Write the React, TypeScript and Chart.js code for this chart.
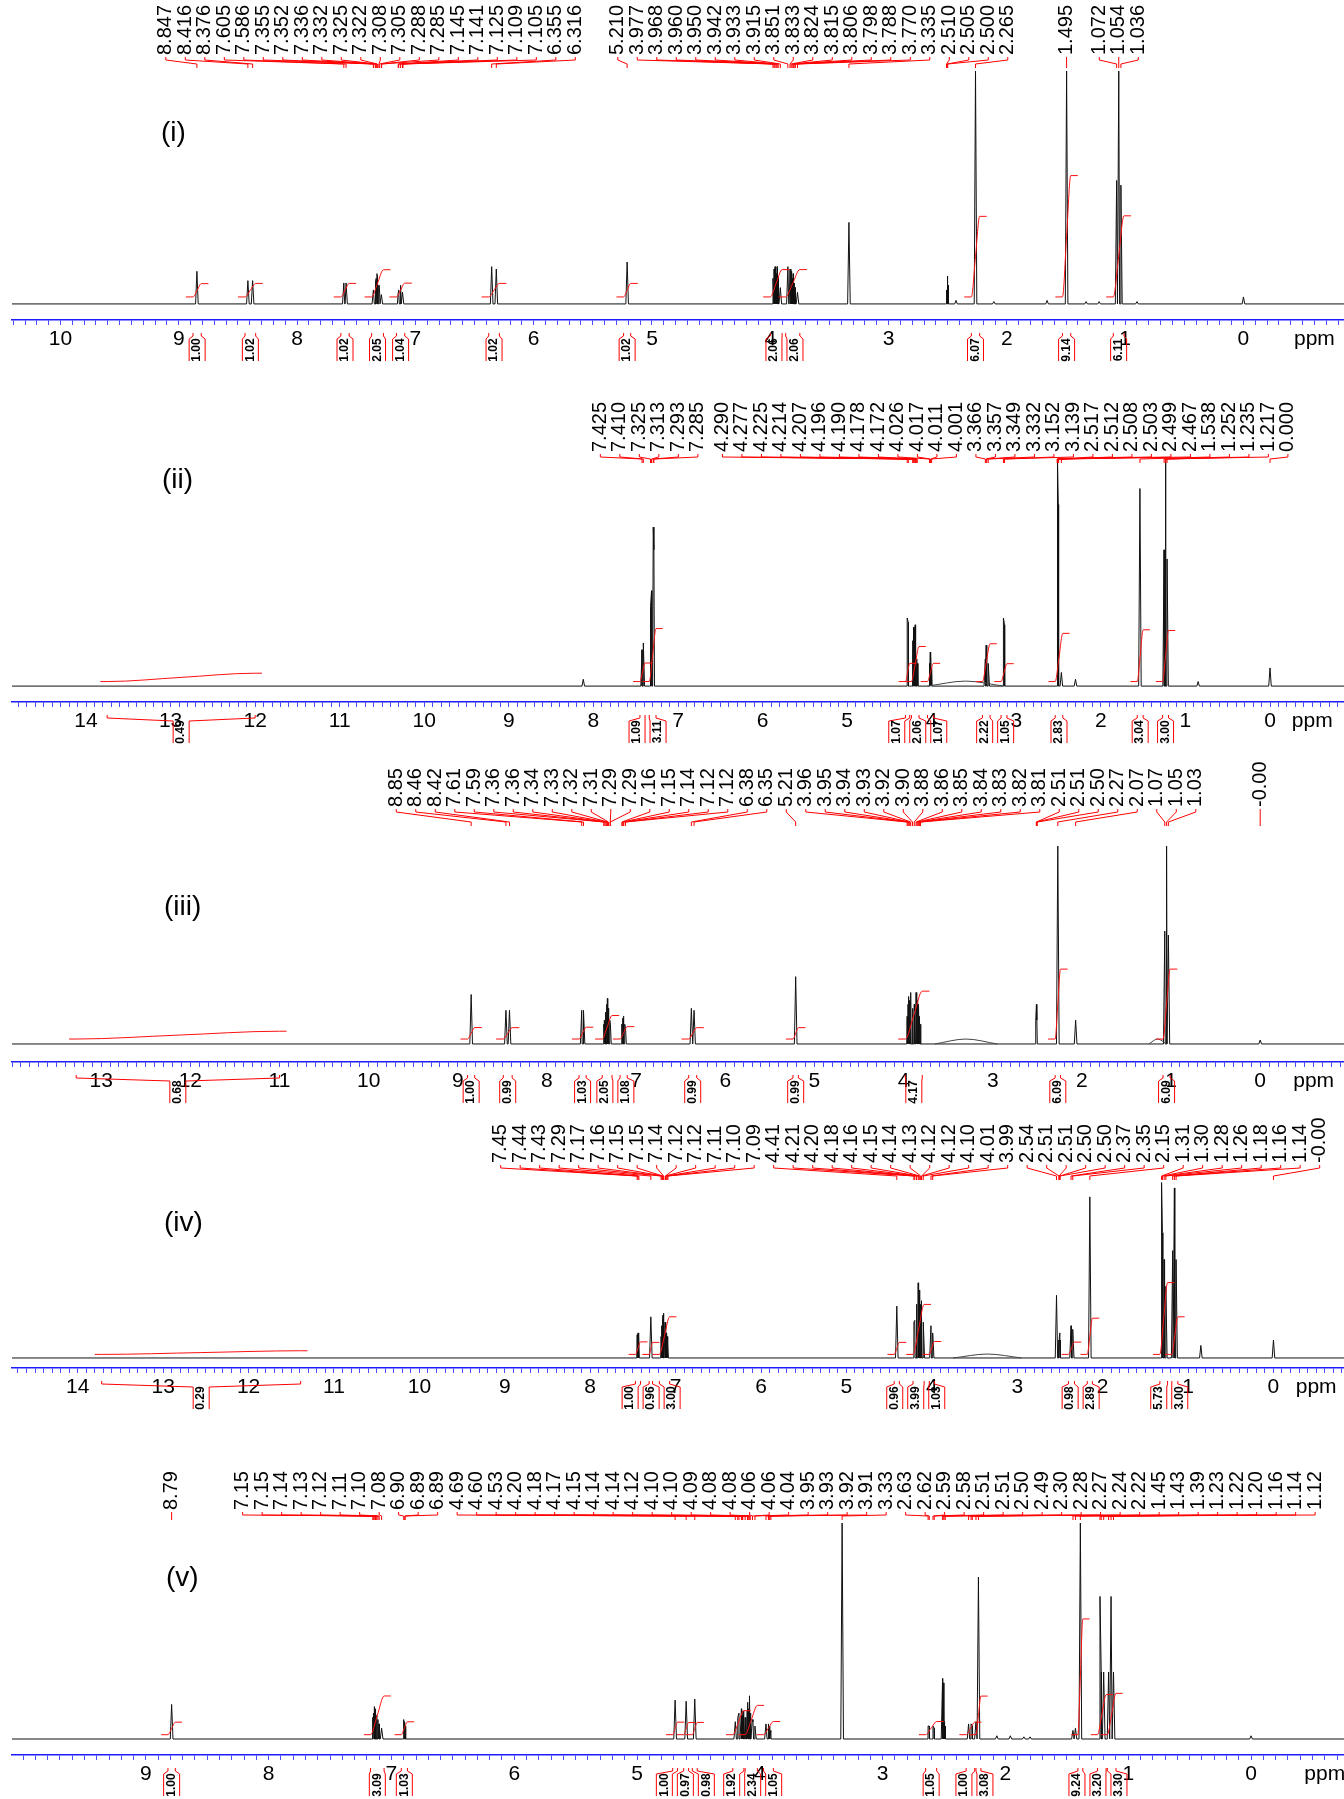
import React, { useEffect, useRef } from 'react';
import { Chart, registerables } from 'chart.js';

Chart.register(...registerables);

type Peak = [number, number];
type Hump = [number, number, number];
type Integral = [number, number, string];

// ---------------- Spectrum (i) ----------------
const PEAKS_1: Peak[] = [
  [8.847, 14], [8.416, 10], [8.376, 10], [7.605, 9], [7.586, 9], [7.355, 6], [7.352, 6], [7.336, 10], [7.332, 11],
  [7.325, 13], [7.322, 12], [7.308, 8], [7.305, 8], [7.288, 4], [7.285, 4], [7.145, 5], [7.141, 6], [7.125, 8],
  [7.109, 5], [7.105, 5], [6.355, 16], [6.316, 15], [5.21, 18], [3.977, 11], [3.968, 15], [3.96, 16], [3.95, 13],
  [3.942, 16], [3.933, 12], [3.915, 7], [3.851, 16], [3.833, 15], [3.824, 14], [3.815, 11], [3.806, 13], [3.798, 9],
  [3.788, 7], [3.77, 5], [3.335, 35], [2.51, 6], [2.505, 10], [2.5, 12], [2.495, 8], [2.43, 1.5], [2.265, 100],
  [2.11, 1], [1.66, 1.5], [1.495, 100], [1.33, 1], [1.22, 1], [1.072, 53], [1.054, 100], [1.036, 51], [0.9, 1], [0.0, 3],
];
const HUMPS_1: Hump[] = [];
const LABELS_1 = [
  '8.847', '8.416', '8.376', '7.605', '7.586', '7.355', '7.352', '7.336', '7.332', '7.325', '7.322', '7.308', '7.305',
  '7.288', '7.285', '7.145', '7.141', '7.125', '7.109', '7.105', '6.355', '6.316', '5.210', '3.977', '3.968', '3.960',
  '3.950', '3.942', '3.933', '3.915', '3.851', '3.833', '3.824', '3.815', '3.806', '3.798', '3.788', '3.770', '3.335',
  '2.510', '2.505', '2.500', '2.265', '1.495', '1.072', '1.054', '1.036',
];
const INTEGRALS_1: Integral[] = [
  [8.88, 8.81, '1.00'], [8.44, 8.35, '1.02'], [7.63, 7.56, '1.02'], [7.37, 7.27, '2.05'], [7.16, 7.09, '1.04'],
  [6.38, 6.29, '1.02'], [5.24, 5.18, '1.02'], [4.0, 3.9, '2.06'], [3.87, 3.75, '2.06'], [2.3, 2.23, '6.07'],
  [1.53, 1.46, '9.14'], [1.1, 1.01, '6.11'],
];

// ---------------- Spectrum (ii) ----------------
const PEAKS_2: Peak[] = [
  [8.12, 3], [7.425, 16], [7.41, 19], [7.325, 35], [7.313, 42], [7.293, 70], [7.285, 60], [4.29, 30], [4.277, 28],
  [4.225, 20], [4.214, 26], [4.207, 25], [4.196, 27], [4.19, 21], [4.178, 12], [4.172, 10], [4.026, 10], [4.017, 15],
  [4.011, 14], [4.001, 8], [3.366, 12], [3.357, 18], [3.349, 16], [3.332, 10], [3.152, 30], [3.139, 27], [2.517, 45],
  [2.512, 75], [2.508, 100], [2.503, 80], [2.499, 50], [2.467, 6], [2.3, 3], [1.538, 87], [1.252, 60], [1.235, 100],
  [1.217, 56], [0.85, 2], [0.0, 8],
];
const HUMPS_2: Hump[] = [[3.6, 2.2, 0.45]];
const LABELS_2 = [
  '7.425', '7.410', '7.325', '7.313', '7.293', '7.285', '4.290', '4.277', '4.225', '4.214', '4.207', '4.196', '4.190',
  '4.178', '4.172', '4.026', '4.017', '4.011', '4.001', '3.366', '3.357', '3.349', '3.332', '3.152', '3.139', '2.517',
  '2.512', '2.508', '2.503', '2.499', '2.467', '1.538', '1.252', '1.235', '1.217', '0.000',
];
const INTEGRALS_2: Integral[] = [
  [13.75, 12.0, '0.49'], [7.45, 7.39, '1.09'], [7.34, 7.26, '3.11'], [4.31, 4.26, '1.07'], [4.24, 4.15, '2.06'],
  [4.05, 3.98, '1.07'], [3.4, 3.31, '2.22'], [3.18, 3.11, '1.05'], [2.54, 2.45, '2.83'], [1.57, 1.5, '3.04'],
  [1.27, 1.2, '3.00'],
];

// ---------------- Spectrum (iii) ----------------
const PEAKS_3: Peak[] = [
  [8.85, 25], [8.46, 17], [8.42, 17], [7.61, 17], [7.59, 17], [7.362, 10], [7.356, 12], [7.342, 16], [7.333, 20],
  [7.322, 23], [7.312, 18], [7.294, 12], [7.288, 10], [7.16, 10], [7.15, 13], [7.14, 14], [7.125, 10], [7.118, 8],
  [6.38, 18], [6.35, 17], [5.21, 34], [3.96, 14], [3.95, 20], [3.94, 24], [3.93, 22], [3.92, 26], [3.9, 18], [3.88, 20],
  [3.86, 26], [3.85, 24], [3.84, 22], [3.83, 20], [3.82, 14], [3.81, 10], [2.515, 12], [2.51, 20], [2.505, 12],
  [2.27, 100], [2.07, 12], [1.07, 57], [1.05, 100], [1.03, 55], [0.0, 2],
];
const HUMPS_3: Hump[] = [[3.3, 2.5, 0.35], [1.15, 2.5, 0.1]];
const LABELS_3 = [
  '8.85', '8.46', '8.42', '7.61', '7.59', '7.36', '7.36', '7.34', '7.33', '7.32', '7.31', '7.29', '7.29', '7.16', '7.15',
  '7.14', '7.12', '7.12', '6.38', '6.35', '5.21', '3.96', '3.95', '3.94', '3.93', '3.92', '3.90', '3.88', '3.86', '3.85',
  '3.84', '3.83', '3.82', '3.81', '2.51', '2.51', '2.50', '2.27', '2.07', '1.07', '1.05', '1.03', '-0.00',
];
const INTEGRALS_3: Integral[] = [
  [13.28, 11.0, '0.68'], [8.89, 8.81, '1.00'], [8.49, 8.39, '0.99'], [7.64, 7.56, '1.03'], [7.38, 7.27, '2.05'],
  [7.18, 7.1, '1.08'], [6.41, 6.32, '0.99'], [5.24, 5.18, '0.99'], [3.98, 3.79, '4.17'], [2.3, 2.24, '6.09'],
  [1.09, 1.01, '6.09'],
];

// ---------------- Spectrum (iv) ----------------
const PEAKS_4: Peak[] = [
  [7.45, 13], [7.44, 14], [7.43, 12], [7.29, 23], [7.17, 12], [7.16, 18], [7.152, 22], [7.147, 24], [7.14, 25],
  [7.124, 20], [7.118, 18], [7.11, 14], [7.1, 12], [7.09, 8], [4.41, 29], [4.21, 20], [4.2, 21], [4.18, 30], [4.16, 42],
  [4.15, 35], [4.14, 38], [4.13, 30], [4.124, 32], [4.118, 25], [4.1, 20], [4.01, 18], [3.99, 14], [2.54, 35],
  [2.512, 10], [2.507, 12], [2.502, 14], [2.497, 10], [2.37, 18], [2.35, 16], [2.15, 90], [1.31, 98], [1.3, 70],
  [1.28, 55], [1.26, 40], [1.18, 60], [1.16, 95], [1.14, 55], [0.85, 7], [0.0, 10],
];
const HUMPS_4: Hump[] = [[3.35, 2.2, 0.4]];
const LABELS_4 = [
  '7.45', '7.44', '7.43', '7.29', '7.17', '7.16', '7.15', '7.15', '7.14', '7.12', '7.12', '7.11', '7.10', '7.09', '4.41',
  '4.21', '4.20', '4.18', '4.16', '4.15', '4.14', '4.13', '4.12', '4.12', '4.10', '4.01', '3.99', '2.54', '2.51', '2.51',
  '2.50', '2.50', '2.37', '2.35', '2.15', '1.31', '1.30', '1.28', '1.26', '1.18', '1.16', '1.14', '-0.00',
];
const INTEGRALS_4: Integral[] = [
  [13.72, 11.39, '0.29'], [7.47, 7.41, '1.00'], [7.31, 7.27, '0.96'], [7.19, 7.07, '3.00'], [4.44, 4.38, '0.96'],
  [4.22, 4.09, '3.99'], [4.03, 3.97, '1.03'], [2.4, 2.33, '0.98'], [2.18, 2.12, '2.89'], [1.33, 1.24, '5.73'],
  [1.19, 1.12, '3.00'],
];

// ---------------- Spectrum (v) ----------------
const PEAKS_5: Peak[] = [
  [8.79, 16], [7.152, 10], [7.146, 12], [7.14, 15], [7.13, 14], [7.12, 11], [7.11, 9], [7.1, 7], [7.08, 5], [6.9, 9],
  [6.893, 8], [6.886, 6], [4.69, 18], [4.6, 17.5], [4.53, 18.5], [4.2, 8], [4.18, 10], [4.17, 12], [4.15, 14],
  [4.143, 11], [4.137, 13], [4.12, 10], [4.103, 13], [4.097, 17], [4.09, 14], [4.083, 20], [4.077, 12], [4.062, 9],
  [4.056, 8], [4.04, 6], [3.95, 7], [3.93, 7], [3.92, 6], [3.91, 4], [3.33, 100], [2.63, 6], [2.62, 6], [2.59, 6],
  [2.58, 5], [2.512, 28], [2.507, 26], [2.5, 8], [2.49, 6], [2.3, 7], [2.28, 7], [2.27, 6], [2.24, 8], [2.22, 75],
  [2.07, 1.5], [1.96, 1.5], [1.85, 1], [1.8, 1], [1.45, 4], [1.43, 5], [1.39, 100], [1.23, 66], [1.22, 31], [1.2, 31],
  [1.16, 31], [1.14, 66], [1.12, 31], [0.0, 1.5],
];
const HUMPS_5: Hump[] = [];
const LABELS_5 = [
  '8.79', '7.15', '7.15', '7.14', '7.13', '7.12', '7.11', '7.10', '7.08', '6.90', '6.89', '6.89', '4.69', '4.60', '4.53',
  '4.20', '4.18', '4.17', '4.15', '4.14', '4.14', '4.12', '4.10', '4.10', '4.09', '4.08', '4.08', '4.06', '4.06', '4.04',
  '3.95', '3.93', '3.92', '3.91', '3.33', '2.63', '2.62', '2.59', '2.58', '2.51', '2.51', '2.50', '2.49', '2.30', '2.28',
  '2.27', '2.24', '2.22', '1.45', '1.43', '1.39', '1.23', '1.22', '1.20', '1.16', '1.14', '1.12',
];
const INTEGRALS_5: Integral[] = [
  [8.82, 8.76, '1.00'], [7.17, 7.06, '3.09'], [6.92, 6.87, '1.03'], [4.71, 4.67, '1.00'], [4.62, 4.58, '0.97'],
  [4.55, 4.51, '0.98'], [4.22, 4.13, '1.92'], [4.12, 4.02, '2.34'], [3.97, 3.89, '1.05'], [2.65, 2.56, '1.05'],
  [2.32, 2.25, '1.00'], [2.24, 2.2, '3.08'], [1.41, 1.37, '9.24'], [1.25, 1.18, '3.20'], [1.17, 1.1, '3.30'],
];

const TAGS = ['(i)', '(ii)', '(iii)', '(iv)', '(v)'];

// ---------------- layout / style per panel (absolute page pixels) ----------------
interface PanelCfg {
  tag: string;
  peaks: Peak[];
  humps: Hump[];
  labels: string[];
  integrals: Integral[];
  top: number;
  height: number;
  chartTop: number;
  axisY: number;
  labelBottom: number;
  leaderEnd: number;
  xmin: number;
  xmax: number;
  ymin: number;
  lineHW: number;
  stub: number;
  intBase: number;
  intScale: number;
  ppmAt: number;
  tagX: number;
  tagY: number;
}

const PANELS: PanelCfg[] = [
  {
    tag: TAGS[0], peaks: PEAKS_1, humps: HUMPS_1, labels: LABELS_1, integrals: INTEGRALS_1,
    top: 0, height: 376, chartTop: 71, axisY: 320, labelBottom: 55, leaderEnd: 68,
    xmin: -0.85, xmax: 10.41, ymin: -6.9, lineHW: 0.011, stub: 0.06, intBase: 3, intScale: 5.7, ppmAt: -0.6,
    tagX: 161, tagY: 133,
  },
  {
    tag: TAGS[1], peaks: PEAKS_2, humps: HUMPS_2, labels: LABELS_2, integrals: INTEGRALS_2,
    top: 376, height: 376, chartTop: 459, axisY: 702, labelBottom: 452, leaderEnd: 463,
    xmin: -0.875, xmax: 14.875, ymin: -7.0, lineHW: 0.015, stub: 0.08, intBase: 2, intScale: 7.5, ppmAt: -0.5,
    tagX: 162, tagY: 480,
  },
  {
    tag: TAGS[2], peaks: PEAKS_3, humps: HUMPS_3, labels: LABELS_3, integrals: INTEGRALS_3,
    top: 752, height: 356, chartTop: 846, axisY: 1062, labelBottom: 807, leaderEnd: 826,
    xmin: -0.94, xmax: 14.0, ymin: -9.1, lineHW: 0.015, stub: 0.08, intBase: 2.5, intScale: 5.8, ppmAt: -0.6,
    tagX: 164, tagY: 907,
  },
  {
    tag: TAGS[3], peaks: PEAKS_4, humps: HUMPS_4, labels: LABELS_4, integrals: INTEGRALS_4,
    top: 1108, height: 352, chartTop: 1179, axisY: 1368, labelBottom: 1163, leaderEnd: 1180,
    xmin: -0.826, xmax: 14.77, ymin: -5.6, lineHW: 0.015, stub: 0.08, intBase: 2, intScale: 7, ppmAt: -0.5,
    tagX: 164, tagY: 1223,
  },
  {
    tag: TAGS[4], peaks: PEAKS_5, humps: HUMPS_5, labels: LABELS_5, integrals: INTEGRALS_5,
    top: 1460, height: 339, chartTop: 1523, axisY: 1755, labelBottom: 1510, leaderEnd: 1520,
    xmin: -0.757, xmax: 10.09, ymin: -7.4, lineHW: 0.011, stub: 0.055, intBase: 2, intScale: 5.8, ppmAt: -0.6,
    tagX: 166, tagY: 1578,
  },
];

const FONT = '"Liberation Sans", Arial, Helvetica, sans-serif';

function pack(want: number[], pitch: number, lo: number, hi: number): number[] {
  const order = want.map((_, i) => i).sort((a, b) => want[a] - want[b] || a - b);
  const stack: { sum: number; n: number; left: number; idx: number[] }[] = [];
  for (const i of order) {
    let c = { sum: want[i], n: 1, left: 0, idx: [i] };
    for (;;) {
      c.left = Math.min(Math.max(c.sum / c.n - ((c.n - 1) * pitch) / 2, lo), hi - (c.n - 1) * pitch);
      const p = stack[stack.length - 1];
      if (p && p.left + p.n * pitch > c.left + 0.01) {
        stack.pop();
        c = { sum: p.sum + c.sum, n: p.n + c.n, left: 0, idx: p.idx.concat(c.idx) };
        continue;
      }
      break;
    }
    stack.push(c);
  }
  const out: number[] = new Array(want.length).fill(0);
  for (const c of stack) c.idx.forEach((i, k) => (out[i] = c.left + k * pitch));
  return out;
}

function spectrumPoints(cfg: PanelCfg) {
  const pts: { x: number; y: number }[] = [
    { x: cfg.xmax, y: 0 },
    { x: cfg.xmin, y: 0 },
  ];
  for (const [p, h] of cfg.peaks) {
    pts.push({ x: p + cfg.lineHW, y: 0 }, { x: p, y: h }, { x: p - cfg.lineHW, y: 0 });
  }
  pts.sort((a, b) => b.x - a.x);
  return pts;
}

function Panel({ cfg }: { cfg: PanelCfg }) {
  const ref = useRef<HTMLCanvasElement | null>(null);
  useEffect(() => {
    const canvas = ref.current;
    if (!canvas) return;
    const T = cfg.top;

    const integralSets = cfg.integrals.map(([a, b, v]) => {
      const rise = parseFloat(v) * cfg.intScale;
      const y0 = cfg.intBase;
      const y1 = cfg.intBase + rise;
      return {
        data: [
          { x: a + cfg.stub, y: y0 },
          { x: a, y: y0 },
          { x: (a + b) / 2, y: (y0 + y1) / 2 },
          { x: b, y: y1 },
          { x: b - cfg.stub, y: y1 },
        ],
        borderColor: '#ff1010',
        borderWidth: 1,
        pointRadius: 0,
        cubicInterpolationMode: 'monotone',
        fill: false,
      };
    });
    const humpSets = cfg.humps.map(([p, h, w]) => ({
      data: [
        { x: p + w, y: 0 },
        { x: p, y: h },
        { x: p - w, y: 0 },
      ],
      borderColor: '#444',
      borderWidth: 1,
      pointRadius: 0,
      cubicInterpolationMode: 'monotone',
      fill: false,
    }));
    const specSet = {
      data: spectrumPoints(cfg),
      borderColor: '#111',
      borderWidth: 1,
      pointRadius: 0,
      tension: 0,
      fill: false,
    };

    const overlay = {
      id: 'nmrOverlay',
      afterDraw(chart: any) {
        const ctx = chart.ctx as CanvasRenderingContext2D;
        const xs = chart.scales.x;
        ctx.save();
        // peak labels + leader lines
        const want = cfg.labels.map((s) => xs.getPixelForValue(parseFloat(s)));
        const pos = pack(want, 19.5, 18, 1336);
        ctx.fillStyle = '#000';
        ctx.font = `20px ${FONT}`;
        cfg.labels.forEach((s, i) => {
          ctx.save();
          ctx.translate(pos[i], cfg.labelBottom - T);
          ctx.rotate(-Math.PI / 2);
          ctx.textAlign = 'left';
          ctx.textBaseline = 'middle';
          ctx.fillText(s, 0, 0);
          ctx.restore();
        });
        ctx.strokeStyle = '#ff0000';
        ctx.lineWidth = 1;
        ctx.beginPath();
        const yA = cfg.labelBottom - T + 2;
        const yE = cfg.leaderEnd - T;
        cfg.labels.forEach((_, i) => {
          ctx.moveTo(pos[i], yA);
          ctx.lineTo(pos[i], yA + 3);
          ctx.lineTo(want[i], yE - 4);
          ctx.lineTo(want[i], yE);
        });
        ctx.stroke();

        // integral brackets and values below the axis
        const axis = chart.chartArea.bottom;
        const xa = cfg.integrals.map(([a]) => xs.getPixelForValue(a));
        const xb = cfg.integrals.map(([, b]) => xs.getPixelForValue(b));
        const want2 = xa.map((v, i) => (v + xb[i]) / 2);
        const pos2 = pack(want2, 21, 18, 1330);
        const yT = axis + 13;
        const yK = axis + 19;
        const yB = axis + 41;
        ctx.beginPath();
        cfg.integrals.forEach((_, i) => {
          const L = pos2[i] - 8;
          const R = pos2[i] + 8;
          ctx.moveTo(xa[i], yT);
          ctx.lineTo(xa[i], yT + 3);
          ctx.lineTo(L, yK);
          ctx.lineTo(L, yB);
          ctx.moveTo(xb[i], yT);
          ctx.lineTo(xb[i], yT + 3);
          ctx.lineTo(R, yK);
          ctx.lineTo(R, yB);
        });
        ctx.stroke();
        ctx.fillStyle = '#000';
        ctx.font = `bold 12px ${FONT}`;
        cfg.integrals.forEach(([, , v], i) => {
          ctx.save();
          ctx.translate(pos2[i], axis + 30);
          ctx.rotate(-Math.PI / 2);
          ctx.textAlign = 'center';
          ctx.textBaseline = 'middle';
          ctx.fillText(v, 0, 0);
          ctx.restore();
        });

        // panel tag
        ctx.font = `28px ${FONT}`;
        ctx.textAlign = 'left';
        ctx.textBaseline = 'middle';
        ctx.fillText(cfg.tag, cfg.tagX, cfg.tagY - T);
        ctx.restore();
      },
    };

    const chart = new Chart(canvas, {
      type: 'line',
      data: { datasets: [...integralSets, ...humpSets, specSet] as any },
      options: {
        responsive: false,
        animation: false,
        devicePixelRatio: 1,
        events: [],
        layout: { padding: { top: cfg.chartTop - T, left: 12, right: 0, bottom: 0 } },
        plugins: { legend: { display: false }, tooltip: { enabled: false } },
        scales: {
          x: {
            type: 'linear',
            reverse: true,
            min: cfg.xmin,
            max: cfg.xmax,
            afterFit: (s: any) => {
              s.height = cfg.top + cfg.height - cfg.axisY;
            },
            border: { display: true, color: '#1c1cff', width: 1.5 },
            grid: { display: true, drawOnChartArea: false, drawTicks: true, tickLength: 5, color: '#4a4aff', lineWidth: 1 },
            ticks: {
              stepSize: 0.1,
              autoSkip: false,
              maxRotation: 0,
              minRotation: 0,
              includeBounds: false,
              padding: 2,
              color: '#000',
              font: { family: FONT, size: 21 },
              callback: (v: any) => {
                const n = Number(v);
                if (Math.abs(n - cfg.ppmAt) < 1e-6) return 'ppm';
                const r = Math.round(n);
                if (r > cfg.xmax - 0.2) return '';
                return Math.abs(n - r) < 1e-6 ? String(Math.abs(r)) : '';
              },
            },
          },
          y: { display: false, min: cfg.ymin, max: 100 },
        },
      } as any,
      plugins: [overlay],
    });
    return () => chart.destroy();
  }, [cfg]);
  return (
    <canvas
      ref={ref}
      width={1344}
      height={cfg.height}
      style={{ position: 'absolute', left: 0, top: cfg.top, width: 1344, height: cfg.height, display: 'block' }}
    />
  );
}

export default function App() {
  return (
    <div style={{ position: 'absolute', left: 0, top: 0, width: 1344, height: 1799, background: '#fff', overflow: 'hidden' }}>
      {PANELS.map((p, i) => (
        <Panel key={i} cfg={p} />
      ))}
    </div>
  );
}
